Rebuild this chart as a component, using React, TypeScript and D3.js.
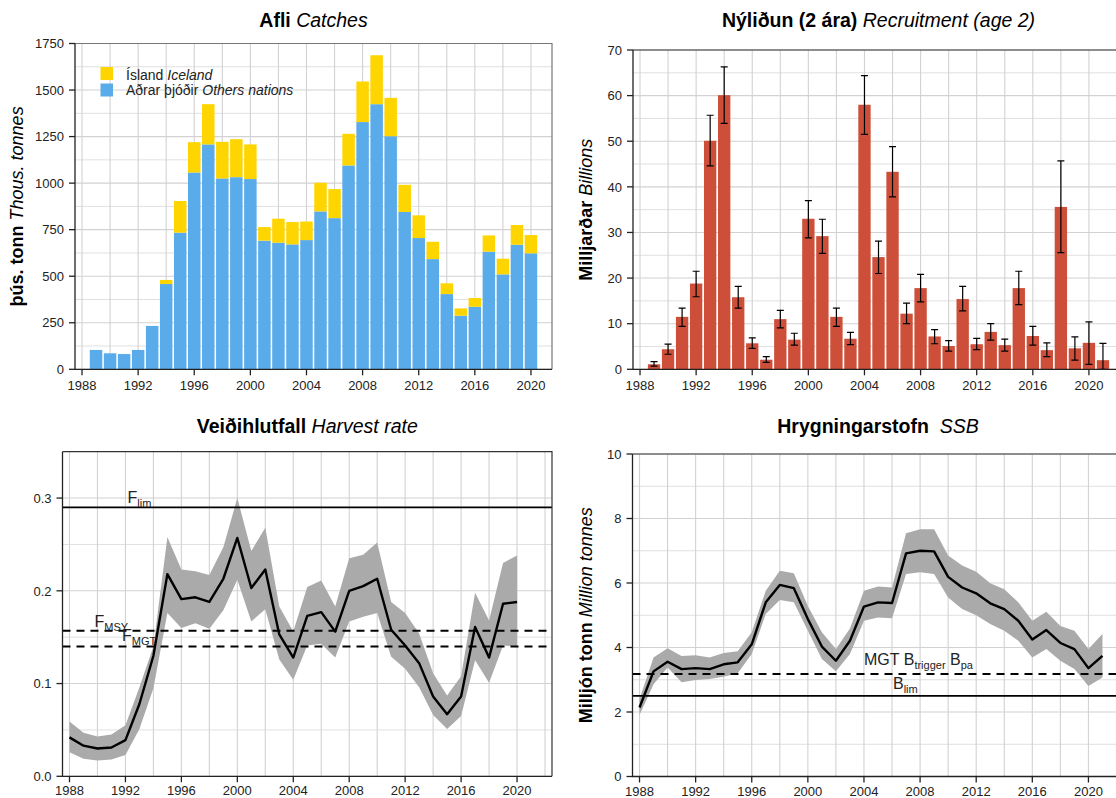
import React from "react";
import * as d3 from "d3";

// years 1988-2021
const YEARS = [1988, 1989, 1990, 1991, 1992, 1993, 1994, 1995, 1996, 1997, 1998, 1999, 2000, 2001, 2002, 2003, 2004,
  2005, 2006, 2007, 2008, 2009, 2010, 2011, 2012, 2013, 2014, 2015, 2016, 2017, 2018, 2019, 2020, 2021];

// Afli / Catches (thous. tonnes), 1989-2020
const catchYears = YEARS.slice(1, 33);
const catchOthers = [104, 86, 82, 104, 233, 458, 734, 1057, 1208, 1025, 1032, 1022, 691, 680, 671, 694, 848, 812,
  1095, 1328, 1424, 1252, 845, 705, 592, 404, 288, 336, 632, 510, 669, 623];
const catchIceland = [0, 0, 0, 0, 0, 22, 170, 163, 216, 197, 204, 186, 73, 129, 120, 100, 154, 156, 170, 218, 263,
  206, 146, 122, 93, 58, 39, 47, 87, 84, 106, 98];

// Nýliðun / Recruitment age 2 (billions), 1989-2021
const recYears = YEARS.slice(1);
const recValue = [1.1, 4.4, 11.5, 18.8, 50.1, 60.1, 15.8, 5.7, 2.1, 11.0, 6.5, 33.0, 29.2, 11.5, 6.7, 58.0, 24.6,
  43.3, 12.2, 17.8, 7.2, 5.1, 15.4, 5.5, 8.2, 5.3, 17.8, 7.3, 4.2, 35.6, 4.6, 5.8, 2.0];
const recHigh = [1.7, 5.5, 13.4, 21.5, 55.7, 66.3, 18.2, 6.9, 2.8, 12.9, 7.9, 37.0, 32.9, 13.4, 8.1, 64.4, 28.1,
  48.8, 14.5, 20.8, 8.7, 6.3, 18.2, 6.8, 10.0, 6.6, 21.5, 9.4, 5.8, 45.7, 7.1, 10.4, 5.7];
const recLow = [0.7, 3.3, 9.4, 15.9, 44.6, 53.9, 13.4, 4.6, 1.5, 9.1, 5.3, 28.8, 25.4, 9.4, 5.4, 51.5, 21.0, 37.8,
  10.0, 14.8, 5.6, 4.0, 12.8, 4.3, 6.4, 4.0, 14.2, 5.3, 2.8, 25.6, 2.0, 1.1, 0];

// Veiðihlutfall / Harvest rate, 1988-2020
const hrYears = YEARS.slice(0, 33);
const hrValue = [0.042, 0.033, 0.030, 0.031, 0.039, 0.078, 0.130, 0.218, 0.191, 0.193, 0.188, 0.213, 0.257, 0.203,
  0.223, 0.153, 0.128, 0.173, 0.177, 0.156, 0.200, 0.205, 0.213, 0.158, 0.141, 0.122, 0.086, 0.067, 0.086, 0.161,
  0.128, 0.186, 0.188];
const hrHigh = [0.059, 0.047, 0.043, 0.045, 0.055, 0.096, 0.140, 0.258, 0.223, 0.221, 0.217, 0.247, 0.300, 0.243,
  0.268, 0.183, 0.156, 0.204, 0.211, 0.183, 0.235, 0.239, 0.252, 0.188, 0.176, 0.154, 0.111, 0.087, 0.108, 0.198,
  0.168, 0.230, 0.238];
const hrLow = [0.026, 0.019, 0.017, 0.018, 0.023, 0.051, 0.095, 0.176, 0.160, 0.165, 0.159, 0.179, 0.212, 0.167,
  0.180, 0.126, 0.104, 0.141, 0.143, 0.128, 0.167, 0.172, 0.176, 0.129, 0.116, 0.096, 0.066, 0.051, 0.065, 0.125,
  0.101, 0.141, 0.140];
const F_LIM = 0.29, F_MSY = 0.157, F_MGT = 0.14;

// Hrygningarstofn / SSB (million tonnes), 1988-2021
const ssbYears = YEARS;
const ssbValue = [2.14, 3.26, 3.56, 3.33, 3.36, 3.33, 3.48, 3.54, 4.10, 5.40, 5.94, 5.84, 4.88, 4.03, 3.59, 4.21,
  5.27, 5.40, 5.38, 6.92, 7.00, 6.98, 6.19, 5.86, 5.68, 5.37, 5.19, 4.83, 4.25, 4.54, 4.14, 3.95, 3.36, 3.74];
const ssbHigh = [2.40, 3.69, 3.98, 3.74, 3.76, 3.69, 3.83, 3.88, 4.47, 5.76, 6.38, 6.30, 5.29, 4.47, 3.95, 4.59,
  5.76, 5.89, 5.86, 7.54, 7.67, 7.67, 6.85, 6.54, 6.35, 5.99, 5.81, 5.40, 4.83, 5.11, 4.67, 4.52, 3.95, 4.42];
const ssbLow = [1.91, 2.86, 3.38, 2.92, 2.99, 3.02, 3.09, 3.20, 3.80, 5.04, 5.47, 5.40, 4.52, 3.64, 3.26, 3.80,
  4.83, 4.93, 4.91, 6.28, 6.33, 6.28, 5.55, 5.19, 5.00, 4.73, 4.52, 4.21, 3.69, 3.95, 3.59, 3.33, 2.81, 3.07];
const B_TRIGGER = 3.18, B_LIM = 2.5;

const xTickYears = [1988, 1992, 1996, 2000, 2004, 2008, 2012, 2016, 2020];
const xGridYears = [1988, 1990, 1992, 1994, 1996, 1998, 2000, 2002, 2004, 2006, 2008, 2010, 2012, 2014, 2016, 2018, 2020, 2022];

const FONT = "'Liberation Sans', Arial, Helvetica, sans-serif";
const INK = "#222";

type Box = { left: number; right: number; top: number; bottom: number; xd: [number, number]; yd: [number, number] };

function Frame(props: {
  b: Box; x: d3.ScaleLinear<number, number>; y: d3.ScaleLinear<number, number>;
  yTicks: number[]; yMinor: number[]; fmt: (v: number) => string; borderColor: string; labelOff?: number;
  children?: React.ReactNode;
}) {
  const { b, x, y, yTicks, yMinor, fmt, borderColor } = props;
  const labelOff = props.labelOff ?? 20.5;
  const grid = xGridYears.filter(g => g >= b.xd[0] && g <= b.xd[1]);
  return (
    <g>
      <rect x={b.left} y={b.top} width={b.right - b.left} height={b.bottom - b.top} fill="#fff" />
      {yMinor.map(v => <line key={"ym" + v} x1={b.left} x2={b.right} y1={y(v)} y2={y(v)} stroke="#e0e0e0" strokeWidth={1} />)}
      {yTicks.map(v => <line key={"yg" + v} x1={b.left} x2={b.right} y1={y(v)} y2={y(v)} stroke="#d2d2d2" strokeWidth={1.1} />)}
      {grid.map(g => <line key={"xg" + g} x1={x(g)} x2={x(g)} y1={b.top} y2={b.bottom} stroke="#d2d2d2" strokeWidth={1.1} />)}
      {props.children}
      <path d={`M${b.left},${b.top}H${b.right}V${b.bottom}`} fill="none" stroke={borderColor} strokeWidth={1.2} />
      <path d={`M${b.left},${b.top}V${b.bottom}H${b.right}`} fill="none" stroke={INK} strokeWidth={1.3} />
      {yTicks.map(v => (
        <g key={"yt" + v}>
          <line x1={b.left - 6} x2={b.left} y1={y(v)} y2={y(v)} stroke={INK} strokeWidth={1.3} />
          <text x={b.left - 11} y={y(v) + 4.7} textAnchor="end" fontSize={13} fill={INK}>{fmt(v)}</text>
        </g>
      ))}
      {xTickYears.map(v => (
        <g key={"xt" + v}>
          <line x1={x(v)} x2={x(v)} y1={b.bottom} y2={b.bottom + 6} stroke={INK} strokeWidth={1.3} />
          <text x={x(v)} y={b.bottom + labelOff} textAnchor="middle" fontSize={13} fill={INK}>{v}</text>
        </g>
      ))}
    </g>
  );
}

function Title({ cx, y, bold, italic, gap = " " }: { cx: number; y: number; bold: string; italic: string; gap?: string }) {
  return (
    <text x={cx} y={y} textAnchor="middle" fontSize={19.5} fill="#000" style={{ whiteSpace: "pre" }}>
      <tspan fontWeight="bold">{bold}</tspan>
      <tspan fontStyle="italic">{gap + italic}</tspan>
    </text>
  );
}

function YTitle({ x, cy, bold, italic }: { x: number; cy: number; bold: string; italic: string }) {
  return (
    <text transform={`translate(${x},${cy}) rotate(-90)`} textAnchor="middle" dy="0.35em" fontSize={18} fill="#000">
      <tspan fontWeight="bold">{bold}</tspan>
      <tspan fontStyle="italic">{" " + italic}</tspan>
    </text>
  );
}

function CatchPanel() {
  const b: Box = { left: 75, right: 552, top: 43.5, bottom: 369.3, xd: [1987.5, 2021.5], yd: [0, 1750] };
  const x = d3.scaleLinear().domain(b.xd).range([b.left, b.right]);
  const y = d3.scaleLinear().domain(b.yd).range([b.bottom, b.top]);
  const bw = (x(1) - x(0)) * 0.89;
  return (
    <g>
      <Frame b={b} x={x} y={y} yTicks={[0, 250, 500, 750, 1000, 1250, 1500, 1750]}
        yMinor={[125, 375, 625, 875, 1125, 1375, 1625]} fmt={v => String(v)} borderColor="#777">
        {catchYears.map((yr, i) => (
          <g key={yr}>
            <rect x={x(yr) - bw / 2} width={bw} y={y(catchOthers[i])} height={y(0) - y(catchOthers[i])} fill="#5aabea" />
            {catchIceland[i] > 0 && (
              <rect x={x(yr) - bw / 2} width={bw} y={y(catchOthers[i] + catchIceland[i])}
                height={y(catchOthers[i]) - y(catchOthers[i] + catchIceland[i])} fill="#ffd500" />
            )}
          </g>
        ))}
        <rect x={100.5} y={67} width={12.5} height={13} fill="#ffd500" />
        <rect x={100.5} y={83.5} width={12.5} height={13} fill="#5aabea" />
        <text x={126} y={79.5} fontSize={14} fill={INK}>Ísland <tspan fontStyle="italic">Iceland</tspan></text>
        <text x={126} y={94.5} fontSize={14} fill={INK}>Aðrar þjóðir <tspan fontStyle="italic">Others nations</tspan></text>
      </Frame>
      <Title cx={(b.left + b.right) / 2} y={26.5} bold="Afli" italic="Catches" />
      <YTitle x={17} cy={(b.top + b.bottom) / 2} bold="þús. tonn" italic="Thous. tonnes" />
    </g>
  );
}

function RecruitPanel() {
  const b: Box = { left: 633, right: 1124, top: 50, bottom: 369.3, xd: [1987.5, 2022.5], yd: [0, 70] };
  const x = d3.scaleLinear().domain(b.xd).range([b.left, b.right]);
  const y = d3.scaleLinear().domain(b.yd).range([b.bottom, b.top]);
  const step = x(1) - x(0);
  const bw = step * 0.88;
  const cw = step * 0.25;
  return (
    <g>
      <Frame b={b} x={x} y={y} yTicks={[0, 10, 20, 30, 40, 50, 60, 70]} yMinor={[5, 15, 25, 35, 45, 55, 65]}
        fmt={v => String(v)} borderColor="#333">
        {recYears.map((yr, i) => (
          <rect key={"b" + yr} x={x(yr) - bw / 2} width={bw} y={y(recValue[i])} height={y(0) - y(recValue[i])} fill="#cd4f39" />
        ))}
        {recYears.map((yr, i) => (
          <path key={"e" + yr} fill="none" stroke="#000" strokeWidth={1.2}
            d={`M${x(yr) - cw},${y(recHigh[i])}H${x(yr) + cw}M${x(yr)},${y(recHigh[i])}V${y(recLow[i])}M${x(yr) - cw},${y(recLow[i])}H${x(yr) + cw}`} />
        ))}
      </Frame>
      <Title cx={(b.left + b.right) / 2} y={26.5} bold="Nýliðun (2 ára)" italic="Recruitment (age 2)" />
      <YTitle x={586} cy={(b.top + b.bottom) / 2} bold="Milljarðar" italic="Billions" />
    </g>
  );
}

function HarvestPanel() {
  const b: Box = { left: 62.5, right: 552, top: 451.7, bottom: 776.3, xd: [1987.5, 2022.5], yd: [0, 0.35] };
  const x = d3.scaleLinear().domain(b.xd).range([b.left, b.right]);
  const y = d3.scaleLinear().domain(b.yd).range([b.bottom, b.top]);
  const band = d3.area<number>().x((_, i) => x(hrYears[i])).y0((_, i) => y(hrLow[i])).y1((_, i) => y(hrHigh[i]));
  const line = d3.line<number>().x((_, i) => x(hrYears[i])).y(d => y(d));
  return (
    <g>
      <Frame b={b} x={x} y={y} yTicks={[0, 0.1, 0.2, 0.3]} yMinor={[0.05, 0.15, 0.25]} fmt={d3.format(".1f")}
        borderColor="#333" labelOff={19}>
        <path d={band(hrValue) || ""} fill="#aaaaaa" />
        <path d={line(hrValue) || ""} fill="none" stroke="#000" strokeWidth={2.4} strokeLinejoin="round" />
        <line x1={b.left} x2={b.right} y1={y(F_LIM)} y2={y(F_LIM)} stroke="#000" strokeWidth={1.6} />
        <line x1={b.left} x2={b.right} y1={y(F_MSY)} y2={y(F_MSY)} stroke="#000" strokeWidth={2} strokeDasharray="8,6" />
        <line x1={b.left} x2={b.right} y1={y(F_MGT)} y2={y(F_MGT)} stroke="#000" strokeWidth={2} strokeDasharray="8,6" />
        <text x={127.5} y={y(F_LIM) - 4.5} fontSize={16} fill={INK}>F<tspan fontSize={11} dy={4}>lim</tspan></text>
        <text x={94.5} y={y(F_MSY) - 3.5} fontSize={16} fill={INK}>F<tspan fontSize={11} dy={4}>MSY</tspan></text>
        <text x={122} y={y(F_MGT) - 5.5} fontSize={16} fill={INK}>F<tspan fontSize={11} dy={4}>MGT</tspan></text>
      </Frame>
      <Title cx={(b.left + b.right) / 2} y={432.5} bold="Veiðihlutfall" italic="Harvest rate" />
    </g>
  );
}

function SsbPanel() {
  const b: Box = { left: 632.5, right: 1123.5, top: 454, bottom: 776.5, xd: [1987.5, 2022.5], yd: [0, 10] };
  const x = d3.scaleLinear().domain(b.xd).range([b.left, b.right]);
  const y = d3.scaleLinear().domain(b.yd).range([b.bottom, b.top]);
  const band = d3.area<number>().x((_, i) => x(ssbYears[i])).y0((_, i) => y(ssbLow[i])).y1((_, i) => y(ssbHigh[i]));
  const line = d3.line<number>().x((_, i) => x(ssbYears[i])).y(d => y(d));
  return (
    <g>
      <Frame b={b} x={x} y={y} yTicks={[0, 2, 4, 6, 8, 10]} yMinor={[1, 3, 5, 7, 9]} fmt={v => String(v)}
        borderColor="#333" labelOff={19}>
        <path d={band(ssbValue) || ""} fill="#aaaaaa" />
        <path d={line(ssbValue) || ""} fill="none" stroke="#000" strokeWidth={2.4} strokeLinejoin="round" />
        <line x1={b.left} x2={b.right} y1={y(B_TRIGGER)} y2={y(B_TRIGGER)} stroke="#000" strokeWidth={2} strokeDasharray="8,6" />
        <line x1={b.left} x2={b.right} y1={y(B_LIM)} y2={y(B_LIM)} stroke="#000" strokeWidth={1.6} />
        <text x={864} y={y(B_TRIGGER) - 9} fontSize={16} fill={INK} style={{ whiteSpace: "pre" }}>
          MGT B<tspan fontSize={11} dy={4}>trigger</tspan><tspan dy={-4}> B</tspan><tspan fontSize={11} dy={4}>pa</tspan>
        </text>
        <text x={893} y={y(B_LIM) - 7} fontSize={16} fill={INK}>B<tspan fontSize={11} dy={4}>lim</tspan></text>
      </Frame>
      <Title cx={(b.left + b.right) / 2} y={432.5} bold="Hrygningarstofn" italic="SSB" gap={"  "} />
      <YTitle x={586} cy={(b.top + b.bottom) / 2} bold="Milljón tonn" italic="Million tonnes" />
    </g>
  );
}

export default function App() {
  return (
    <svg width={1116} height={798} style={{ position: "absolute", left: 0, top: 0, fontFamily: FONT, background: "#fff" }}>
      <rect width={1116} height={798} fill="#fff" />
      <CatchPanel />
      <RecruitPanel />
      <HarvestPanel />
      <SsbPanel />
    </svg>
  );
}
